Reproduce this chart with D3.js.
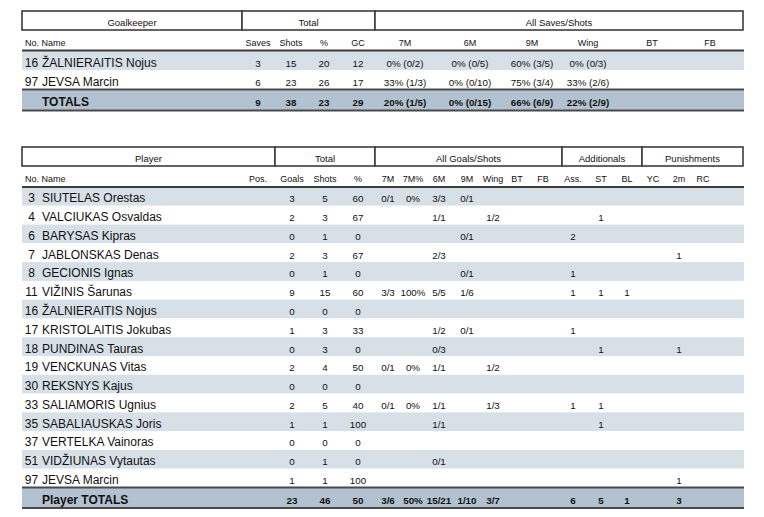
<!DOCTYPE html>
<html>
<head>
<meta charset="utf-8">
<title>Goalkeeper and player statistics</title>
<script src="https://cdn.jsdelivr.net/npm/d3@7"></script>
<style>
	body { margin: 0; background: #fff; }
	svg { font-family: "Liberation Sans", Arial, sans-serif; fill: #111; }
	.small { font-size: 9px; }
	.grp { font-size: 9.5px; }
	.val { font-size: 9.8px; }
	.name { font-size: 12px; }
	.bold { font-weight: bold; }
</style>
</head>
<body>
<svg id="chart" width="764" height="517"></svg>
<script>
// ---- goalkeeper table data ----
var gkGroups = ['Goalkeeper', 'Total', 'All Saves/Shots'];
var gkColumns = ['Saves', 'Shots', '%', 'GC', '7M', '6M', '9M', 'Wing', 'BT', 'FB'];
var gkNo = [16, 97];
var gkName = ['ŽALNIERAITIS Nojus', 'JEVSA Marcin'];
var gkSaves = [3, 6];
var gkShots = [15, 23];
var gkPct = [20, 26];
var gkGC = [12, 17];
var gk7M = ['0% (0/2)', '33% (1/3)'];
var gk6M = ['0% (0/5)', '0% (0/10)'];
var gk9M = ['60% (3/5)', '75% (3/4)'];
var gkWing = ['0% (0/3)', '33% (2/6)'];
var gkBT = ['', ''];
var gkFB = ['', ''];
var gkTotals = ['9', '38', '23', '29', '20% (1/5)', '0% (0/15)', '66% (6/9)', '22% (2/9)', '', ''];

// ---- player table data ----
var plGroups = ['Player', 'Total', 'All Goals/Shots', 'Additionals', 'Punishments'];
var plColumns = ['Pos.', 'Goals', 'Shots', '%', '7M', '7M%', '6M', '9M', 'Wing', 'BT', 'FB', 'Ass.', 'ST', 'BL', 'YC', '2m', 'RC'];
var plNo = [3, 4, 6, 7, 8, 11, 16, 17, 18, 19, 30, 33, 35, 37, 51, 97];
var plName = ['SIUTELAS Orestas', 'VALCIUKAS Osvaldas', 'BARYSAS Kipras', 'JABLONSKAS Denas', 'GECIONIS Ignas',
	'VIŽINIS Šarunas', 'ŽALNIERAITIS Nojus', 'KRISTOLAITIS Jokubas', 'PUNDINAS Tauras', 'VENCKUNAS Vitas',
	'REKSNYS Kajus', 'SALIAMORIS Ugnius', 'SABALIAUSKAS Joris', 'VERTELKA Vainoras', 'VIDŽIUNAS Vytautas', 'JEVSA Marcin'];
var plPos = ['', '', '', '', '', '', '', '', '', '', '', '', '', '', '', ''];
var plGoals = [3, 2, 0, 2, 0, 9, 0, 1, 0, 2, 0, 2, 1, 0, 0, 1];
var plShots = [5, 3, 1, 3, 1, 15, 0, 3, 3, 4, 0, 5, 1, 0, 1, 1];
var plPct = [60, 67, 0, 67, 0, 60, 0, 33, 0, 50, 0, 40, 100, 0, 0, 100];
var pl7M = ['0/1', '', '', '', '', '3/3', '', '', '', '0/1', '', '0/1', '', '', '', ''];
var pl7MPct = ['0%', '', '', '', '', '100%', '', '', '', '0%', '', '0%', '', '', '', ''];
var pl6M = ['3/3', '1/1', '', '2/3', '', '5/5', '', '1/2', '0/3', '1/1', '', '1/1', '1/1', '', '0/1', ''];
var pl9M = ['0/1', '', '0/1', '', '0/1', '1/6', '', '0/1', '', '', '', '', '', '', '', ''];
var plWing = ['', '1/2', '', '', '', '', '', '', '', '1/2', '', '1/3', '', '', '', ''];
var plBT = ['', '', '', '', '', '', '', '', '', '', '', '', '', '', '', ''];
var plFB = ['', '', '', '', '', '', '', '', '', '', '', '', '', '', '', ''];
var plAss = ['', '', '2', '', '1', '1', '', '1', '', '', '', '1', '', '', '', ''];
var plST = ['', '1', '', '', '', '1', '', '', '1', '', '', '1', '1', '', '', ''];
var plBL = ['', '', '', '', '', '1', '', '', '', '', '', '', '', '', '', ''];
var plYC = ['', '', '', '', '', '', '', '', '', '', '', '', '', '', '', ''];
var pl2m = ['', '', '', '1', '', '', '', '', '1', '', '', '', '', '', '', '1'];
var plRC = ['', '', '', '', '', '', '', '', '', '', '', '', '', '', '', ''];
var plTotals = ['', '23', '46', '50', '3/6', '50%', '15/21', '1/10', '3/7', '', '', '6', '5', '1', '', '3', ''];

var svg = d3.select('#chart');

function drawTable(t) {
	var g = svg.append('g');
	var left = t.edges[0], right = t.edges[t.edges.length - 1];

	// group header boxes
	var hdr = g.selectAll('.grp').data(t.groups).enter().append('g');
	hdr.append('rect')
		.attr('x', (d, i) => t.edges[i])
		.attr('y', t.headTop)
		.attr('width', (d, i) => t.edges[i + 1] - t.edges[i])
		.attr('height', t.headBottom - t.headTop)
		.attr('fill', '#fff')
		.attr('stroke', '#3c3c3c')
		.attr('stroke-width', 1.6);
	hdr.append('text')
		.attr('class', 'grp')
		.attr('x', (d, i) => (t.edges[i] + t.edges[i + 1]) / 2)
		.attr('y', t.headBottom - 4.5)
		.attr('text-anchor', 'middle')
		.text(d => d);

	// column labels
	var x = d3.scaleOrdinal().domain(t.columns).range(t.colX);
	g.append('text').attr('class', 'small')
		.attr('x', left + 3).attr('y', t.labelY).text('No. Name');
	g.selectAll('.col').data(t.columns).enter().append('text')
		.attr('class', 'small')
		.attr('x', d => x(d))
		.attr('y', t.labelY)
		.attr('text-anchor', 'middle')
		.text(d => d);

	// rows
	var y = d3.scaleBand().domain(d3.range(t.no.length)).range([t.bodyTop, t.bodyBottom]);
	var rows = g.selectAll('.row').data(t.no).enter().append('g')
		.attr('transform', (d, i) => 'translate(0,' + y(i) + ')');
	rows.append('rect')
		.attr('x', left).attr('width', right - left + 1)
		.attr('height', y.bandwidth())
		.attr('fill', (d, i) => i % 2 === 0 ? '#d7dfe7' : '#fff');
	rows.append('text').attr('class', 'name')
		.attr('x', left + 9.5).attr('y', y.bandwidth() - 3.5)
		.attr('text-anchor', 'middle')
		.text(d => d);
	rows.append('text').attr('class', 'name')
		.attr('x', left + 20).attr('y', y.bandwidth() - 3.5)
		.text((d, i) => t.names[i]);
	rows.each(function (d, i) {
		d3.select(this).selectAll('.v').data(t.values).enter().append('text')
			.attr('class', 'val')
			.attr('x', (col, j) => x(t.columns[j]))
			.attr('y', y.bandwidth() - 3.5)
			.attr('text-anchor', 'middle')
			.text(col => col[i]);
	});

	// line under column labels
	g.append('line')
		.attr('x1', left).attr('x2', right + 1)
		.attr('y1', t.bodyTop).attr('y2', t.bodyTop)
		.attr('stroke', '#3c3c3c').attr('stroke-width', 1.8);

	// totals row
	var tt = g.append('g').attr('transform', 'translate(0,' + t.bodyBottom + ')');
	var th = t.totalHeight;
	tt.append('rect').attr('x', left).attr('width', right - left + 1)
		.attr('height', th).attr('fill', '#b3c2d0');
	tt.selectAll('line').data([0, th]).enter().append('line')
		.attr('x1', left).attr('x2', right + 1)
		.attr('y1', d => d).attr('y2', d => d)
		.attr('stroke', '#4a4a4a').attr('stroke-width', 1.8);
	tt.append('text').attr('class', 'name bold')
		.attr('x', left + 20).attr('y', th - 4.5)
		.text(t.totalLabel);
	tt.selectAll('.tv').data(t.totals).enter().append('text')
		.attr('class', 'val bold')
		.attr('x', (d, j) => x(t.columns[j]))
		.attr('y', th - 4.5)
		.attr('text-anchor', 'middle')
		.text(d => d);
}

drawTable({
	groups: gkGroups, columns: gkColumns,
	edges: [22, 242, 375, 743],
	colX: [258, 291, 324, 358, 405, 470, 532, 588, 652, 710],
	headTop: 11, headBottom: 30, labelY: 45.5,
	bodyTop: 50.5, bodyBottom: 89.5, totalHeight: 21,
	no: gkNo, names: gkName,
	values: [gkSaves, gkShots, gkPct, gkGC, gk7M, gk6M, gk9M, gkWing, gkBT, gkFB],
	totals: gkTotals, totalLabel: 'TOTALS'
});

drawTable({
	groups: plGroups, columns: plColumns,
	edges: [22, 275, 375, 562, 642, 743],
	colX: [258, 292, 325, 358, 388, 413, 439, 467, 493, 517, 543, 573, 601, 627, 653, 679, 703],
	headTop: 147, headBottom: 166, labelY: 182,
	bodyTop: 187, bodyBottom: 487.5, totalHeight: 20.5,
	no: plNo, names: plName,
	values: [plPos, plGoals, plShots, plPct, pl7M, pl7MPct, pl6M, pl9M, plWing, plBT, plFB, plAss, plST, plBL, plYC, pl2m, plRC],
	totals: plTotals, totalLabel: 'Player TOTALS'
});
</script>
</body>
</html>
